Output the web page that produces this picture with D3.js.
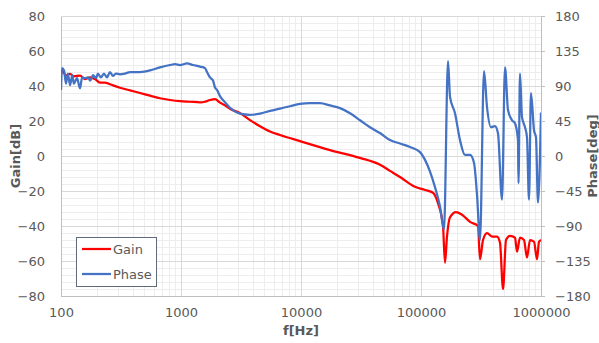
<!DOCTYPE html>
<html><head><meta charset="utf-8">
<script src="https://cdn.jsdelivr.net/npm/d3@7"></script>
<style>body{margin:0;background:#fff}svg{display:block}</style>
</head><body><svg id="c" width="599" height="343"></svg>
<script>
// ---- data ----
const gainFreq = [100,102,110,119,128,144,158,175,192,211,232,256,310,376,455,552,668,810,981,1189,1440,1585,1745,1920,2113,2326,2561,3101,3758,4552,5516,6683,9810,17450,31025,45530,55160,66830,89125,108000,125900,138600,152500,158500,164700,174500,195700,219600,256100,298500,310200,328600,354800,390600,429900,455300,482500,510900,551600,607300,631000,668300,721500,764300,809800,874600,926200,962400,1000000];
const gain = [47,49,46,47,45.5,46,44,45,44,42,42,41,39,37.5,36,34.5,33,32,31.3,31,30.7,31,32,32.5,30.5,29,27,24.5,20.5,17,14,12,8.5,3.4,-1.1,-5,-8.5,-12,-17.6,-19.4,-21,-27,-40,-61,-46,-35,-32,-33.6,-37.6,-40,-59,-48,-44,-46,-46,-49.5,-76,-48,-45.6,-46.7,-54.7,-46.7,-48,-58,-48,-49,-59,-49,-48];
const phaseFreq = [100,102,106,110,114,119,124,128,136,144,150,158,168,175,185,196,203,215,228,242,256,271,287,310,341,376,455,552,668,810,891,981,1122,1259,1440,1585,1647,1745,1848,1920,1995,2113,2326,2561,3101,3758,4552,5516,6683,8098,9810,11885,14400,17450,21135,25610,31025,37580,45530,55160,66830,80980,98100,108000,118900,130800,144000,155500,167900,174500,192000,211300,232600,256100,276600,292900,310200,335000,354800,383100,413700,438200,473200,501200,530900,573200,607300,643200,649300,668300,694400,735600,764300,794300,825400,874600,908500,944100,1000000];
const phase = [85,113,110,93,106,91,104,93,100,87,101,100,101,97,104,100,106,101,106,101,108,103,106,105,106,108,108,110,114,117,118,117,119,117,115,113,108,101,97,88,85,77,69,62,54.5,53,54.5,58,61,64,67,68,68,65,61.5,55,46,37,29.5,20.5,16,11.5,5,-5,-20,-40,-65,-95,122,76,55,20.5,1.3,1.3,-9,-50,-108,109,63,37,38.5,29,-56,114,59,46,42,20,-35,106,50,37,24,-56,81,33,24,-60,56];
const gainTicks = [-80,-60,-40,-20,0,20,40,60,80];
const phaseTicks = [-180,-135,-90,-45,0,45,90,135,180];
const freqTicks = [100,1000,10000,100000,1000000];
const seriesNames = ["Gain","Phase"];
const seriesColors = ["#FF0000","#4472C4"];

// ---- layout ----
const svg = d3.select("#c");
const L = 61, R = 541, T = 16, B = 296;
const x = d3.scaleLog().domain([100,1e6]).range([L,R]);
const yG = d3.scaleLinear().domain([-80,80]).range([B,T]);
const yP = d3.scaleLinear().domain([-180,180]).range([B,T]);
const font = "'DejaVu Sans', Verdana, sans-serif";
const txt = "#595959";

// minor grid
const g = svg.append("g");
const minorX = [];
for (let d = 100; d < 1e6; d *= 10) for (let k = 2; k <= 9; k++) minorX.push(d*k);
g.selectAll(".mx").data(minorX).join("line")
  .attr("x1", d=>x(d)).attr("x2", d=>x(d)).attr("y1",T).attr("y2",B)
  .attr("stroke","#ededed").attr("stroke-width",1).attr("shape-rendering","crispEdges");
const minorY = d3.range(-80, 81, 4).filter(v => v % 20 !== 0);
g.selectAll(".my").data(minorY).join("line")
  .attr("x1",L).attr("x2",R).attr("y1",d=>yG(d)).attr("y2",d=>yG(d))
  .attr("stroke","#ededed").attr("stroke-width",1).attr("shape-rendering","crispEdges");
// major grid
g.selectAll(".Mx").data(freqTicks).join("line")
  .attr("x1", d=>x(d)).attr("x2", d=>x(d)).attr("y1",T).attr("y2",B)
  .attr("stroke","#d9d9d9").attr("stroke-width",1).attr("shape-rendering","crispEdges");
g.selectAll(".My").data(gainTicks).join("line")
  .attr("x1",L).attr("x2",R).attr("y1",d=>yG(d)).attr("y2",d=>yG(d))
  .attr("stroke","#d9d9d9").attr("stroke-width",1).attr("shape-rendering","crispEdges");

// axes
const axL = d3.axisLeft(yG).tickValues(gainTicks).tickSize(0).tickPadding(16);
const axR = d3.axisRight(yP).tickValues(phaseTicks).tickSize(4).tickPadding(10);
const axB = d3.axisBottom(x).tickValues(freqTicks).tickFormat(d3.format("d")).tickSize(0).tickPadding(12);
function style(sel){
  sel.selectAll("text").attr("fill",txt).style("font-family",font).style("font-size","13px");
  sel.select(".domain").attr("stroke","#bfbfbf").attr("shape-rendering","crispEdges");
  sel.selectAll(".tick line").attr("stroke","#bfbfbf").attr("shape-rendering","crispEdges");
}
svg.append("g").attr("transform",`translate(${L},0)`).call(axL).call(style);
svg.append("g").attr("transform",`translate(${R},0)`).call(axR).call(style);
svg.append("g").attr("transform",`translate(0,${B})`).call(axB).call(style);

// titles
svg.append("text").attr("transform","translate(19.5,156) rotate(-90)").attr("text-anchor","middle")
  .attr("fill",txt).style("font-family",font).style("font-size","13px").style("font-weight","bold").text("Gain[dB]");
svg.append("text").attr("transform","translate(596.5,156) rotate(-90)").attr("text-anchor","middle")
  .attr("fill",txt).style("font-family",font).style("font-size","13px").style("font-weight","bold").text("Phase[deg]");
svg.append("text").attr("x",301).attr("y",335).attr("text-anchor","middle")
  .attr("fill",txt).style("font-family",font).style("font-size","13px").style("font-weight","bold").text("f[Hz]");

// lines
svg.append("clipPath").attr("id","pc").append("rect").attr("x",L).attr("y",T-3).attr("width",R-L).attr("height",B-T+6);
const lineG = d3.line().x(d=>x(d[0])).y(d=>yG(d[1])).curve(d3.curveMonotoneX);
const lineP = d3.line().x(d=>x(d[0])).y(d=>yP(d[1])).curve(d3.curveMonotoneX);
svg.append("path").datum(d3.zip(gainFreq, gain)).attr("d", lineG)
  .attr("fill","none").attr("stroke",seriesColors[0]).attr("stroke-width",2.25).attr("stroke-linejoin","round").attr("clip-path","url(#pc)");
svg.append("path").datum(d3.zip(phaseFreq, phase)).attr("d", lineP)
  .attr("fill","none").attr("stroke",seriesColors[1]).attr("stroke-width",2.25).attr("stroke-linejoin","round").attr("clip-path","url(#pc)");

// legend
const lg = svg.append("g");
lg.append("rect").attr("x",76.5).attr("y",237.5).attr("width",80).attr("height",49)
  .attr("fill","#fff").attr("stroke","#5f6b78").attr("stroke-width",1);
seriesNames.forEach((n,i)=>{
  const yy = 249 + i*25;
  lg.append("line").attr("x1",82).attr("x2",111).attr("y1",yy).attr("y2",yy)
    .attr("stroke",seriesColors[i]).attr("stroke-width",2.25);
  lg.append("text").attr("x",113).attr("y",yy).attr("dy","0.35em").attr("fill",txt)
    .style("font-family",font).style("font-size","13px").text(n);
});
</script>
</body></html>
